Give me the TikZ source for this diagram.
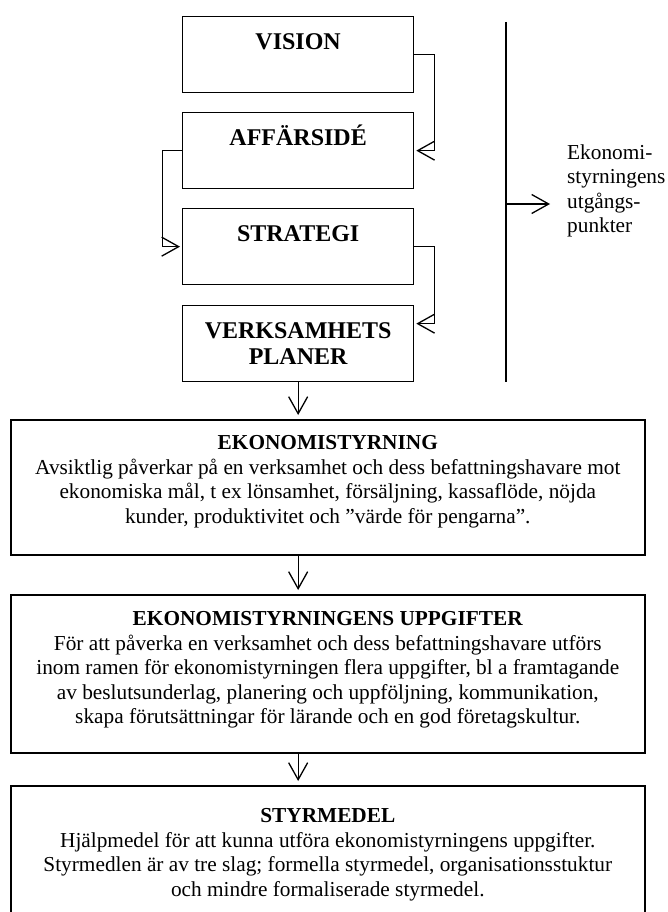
\documentclass[tikz,border=0pt]{standalone}
\usepackage{fontspec}
\setmainfont{Liberation Serif}
\usetikzlibrary{arrows.meta}

% invisible strut that fixes where the first baseline sits
\newcommand{\firstline}[1]{\rule{0pt}{#1pt}}
% text of the small planning boxes: bold title, top aligned
\newcommand{\stagetext}[1]{%
  \begin{minipage}[t][76pt][t]{231pt}\centering
    \fontsize{24}{26}\selectfont\bfseries\firstline{33}#1%
  \end{minipage}}
% text of the wide boxes: height, first-baseline offset, title, body
\newcommand{\paneltext}[4]{%
  \begin{minipage}[t][#1pt][t]{634pt}\centering
    \fontsize{21.3}{24.5}\selectfont\firstline{#2}\textbf{#3}\\#4%
  \end{minipage}}

\begin{document}
\begin{tikzpicture}[x=1pt,y=-1pt,
  stage/.style={draw, line width=1.3pt, inner sep=0pt, anchor=north west},
  panel/.style={draw, line width=1.6pt, inner sep=0pt, anchor=north west},
  caption/.style={inner sep=0pt, anchor=north west},
  conn/.style={line width=1.3pt, -{Straight Barb[length=17pt,width=19pt]}, shorten >=2pt},
  down/.style={conn, shorten >=4pt},
  rail/.style={line width=1.3pt}]

\useasboundingbox (0,0) rectangle (667,912);

% planning chain
\node[stage] (vision) at (182,16)  {\stagetext{VISION}};
\node[stage] (idea)   at (182,112) {\stagetext{AFFÄRSIDÉ}};
\node[stage] (strat)  at (182,208) {\stagetext{STRATEGI}};
\node[stage] (plans)  at (182,305) {\stagetext{VERKSAMHETS\\PLANER}};

\draw[conn] (vision.east) -- ++(20,0) |- (idea.east);
\draw[conn] (idea.west) -- ++(-19.5,0) |- (strat.west);
\draw[conn] (strat.east) -- ++(20,0) |- ([yshift=20pt]plans.east);

% bracket on the right and its caption
\coordinate (railtop) at (506,22);
\coordinate (railbot) at (506,382);
\coordinate (railmid) at (506,204);
\coordinate (railtip) at (552,204);
\draw[rail] (railtop) -- (railbot);
\draw[conn] (railmid) -- (railtip);
\node[caption] (basis) at (567,129) {%
  \begin{minipage}[t]{120pt}\raggedright
    \fontsize{21.3}{24.5}\selectfont\firstline{30}Ekonomi-\\styrningens\\utgångs-\\punkter%
  \end{minipage}};

% wide description boxes
\node[panel] (control) at (10,419) {\paneltext{135}{30}{EKONOMISTYRNING}{%
  Avsiktlig påverkar på en verksamhet och dess befattningshavare mot\\
  ekonomiska mål, t ex lönsamhet, försäljning, kassaflöde, nöjda\\
  kunder, produktivitet och ”värde för pengarna”.}};

\node[panel] (tasks) at (10,594) {\paneltext{158}{31}{EKONOMISTYRNINGENS UPPGIFTER}{%
  För att påverka en verksamhet och dess befattningshavare utförs\\
  inom ramen för ekonomistyrningen flera uppgifter, bl a framtagande\\
  av beslutsunderlag, planering och uppföljning, kommunikation,\\
  skapa förutsättningar för lärande och en god företagskultur.}};

\node[panel] (means) at (10,785) {\paneltext{142}{37}{STYRMEDEL}{%
  Hjälpmedel för att kunna utföra ekonomistyrningens uppgifter.\\
  Styrmedlen är av tre slag; formella styrmedel, organisationsstuktur\\
  och mindre formaliserade styrmedel.}};

\draw[down] (plans.south) -- (plans.south |- control.north);
\draw[down] (plans.south |- control.south) -- (plans.south |- tasks.north);
\draw[down] (plans.south |- tasks.south) -- (plans.south |- means.north);

\end{tikzpicture}
\end{document}
